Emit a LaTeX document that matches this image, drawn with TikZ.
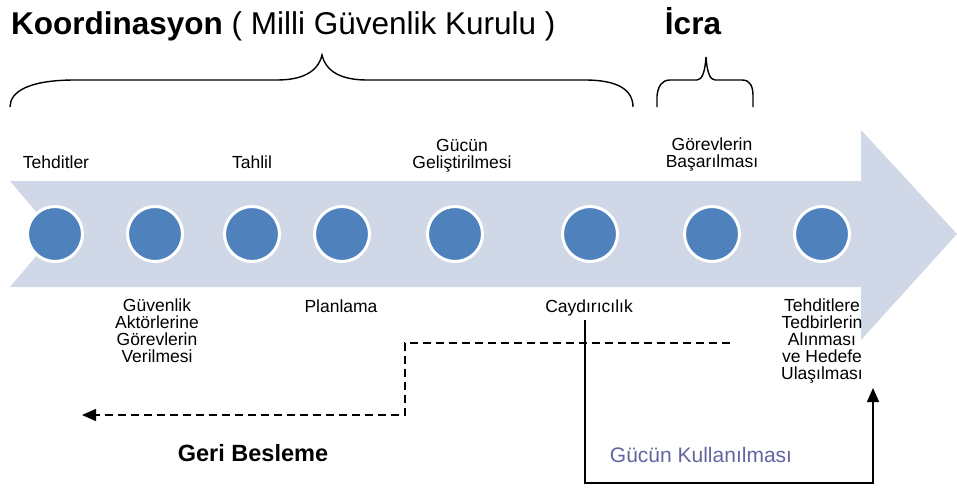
\documentclass[tikz,border=0pt]{standalone}
\usepackage{fontspec}
\setmainfont{Liberation Sans}
\usetikzlibrary{arrows.meta,positioning}

\definecolor{bandcol}{HTML}{D0D8E8}
\definecolor{dotcol}{HTML}{4F81BD}
\definecolor{usecol}{HTML}{6464A0}

\begin{document}
\begin{tikzpicture}[x=1pt,y=-1pt,
    dot/.style={circle,fill=dotcol,draw=white,line width=3pt,minimum size=55pt,inner sep=0pt},
    lbl/.style={font=\fontsize{17.5}{16.8}\selectfont,align=center,inner sep=0pt,anchor=base},
    brace/.style={line width=1.4pt},
    feed/.style={line width=1.4pt,dash pattern=on 8pt off 5pt},
    tip/.style={-{Triangle[length=14pt,width=12pt]}}]
    \useasboundingbox (0,0) rectangle (957,488);

    % Band
    \fill[bandcol] (10,181) -- (861,181) -- (861,130) -- (957,234) -- (861,340)
      -- (861,287) -- (10,287) -- (55,234) -- cycle;

    % Steps
    \foreach \n/\x in {1/55,2/155,3/252,4/342,5/455,6/590,7/712,8/822}
      \node[dot] (c\n) at (\x,234) {};

    % Titles
    \node[anchor=base west,inner sep=0pt,font=\fontsize{31.5}{33}\selectfont] (koord) at (11,34)
      {\textbf{Koordinasyon} ( Milli Güvenlik Kurulu )};
    \node[anchor=base,inner sep=0pt,font=\fontsize{31.5}{33}\selectfont\bfseries] (icra) at (693,34) {İcra};

    % Braces
    \draw[brace] (10,107) .. controls (10,92) and (28,80) .. (75,80) -- (277,80)
      .. controls (302,80) and (318,72) .. (322,55)
      .. controls (326,72) and (342,80) .. (367,80) -- (585,80)
      .. controls (618,80) and (633,90) .. (633,107);
    \draw[brace] (657,107) -- (657,96) .. controls (658,86) and (662,80) .. (670,80) -- (697,80)
      .. controls (702,80) and (705,72) .. (706,57)
      .. controls (707,72) and (710,80) .. (715,80) -- (742,80)
      .. controls (750,80) and (753,86) .. (753,96) -- (753,107);

    % Upper labels (base = last line)
    \node[lbl] (tehd) at (56,168) {Tehditler};
    \node[lbl] (tahl) at (252,168) {Tahlil};
    \node[lbl] (gelis) at (462,168) {Gücün\\Geliştirilmesi};
    \node[lbl] (basar) at (712,167) {Görevlerin\\Başarılması};

    % Lower labels
    \node[lbl] (akt) at (157,362) {Güvenlik\\Aktörlerine\\Görevlerin\\Verilmesi};
    \node[lbl] (plan) at (341,312) {Planlama};
    \node[lbl] (cay) at (589,312) {Caydırıcılık};
    \node[lbl] (hedef) at (822,379) {Tehditlere\\Tedbirlerin\\Alınması\\ve Hedefe\\Ulaşılması};

    % Feedback
    \coordinate (fbstart) at (730,343);
    \coordinate (fbend) at (82,415);
    \draw[feed,tip] (fbstart) -- (405,343) |- (fbend);
    \node[anchor=base,inner sep=0pt,font=\fontsize{23.5}{25}\selectfont\bfseries] (geri) at (253,461) {Geri Besleme};

    % Use of force
    \draw[line width=1.4pt,tip] (585,320) -- (585,483) -| (873,388);
    \node[anchor=base,inner sep=0pt,font=\fontsize{21}{23}\selectfont,text=usecol] (kull) at (701,462) {Gücün Kullanılması};
\end{tikzpicture}
\end{document}
